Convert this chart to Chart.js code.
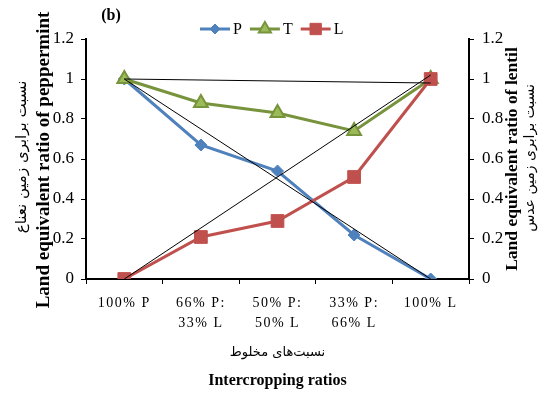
<!DOCTYPE html>
<html>
<head>
<meta charset="utf-8">
<script src="https://cdn.jsdelivr.net/npm/chart.js@4.4.1/dist/chart.umd.min.js"></script>
<style>
  html, body { margin: 0; padding: 0; background: #fff; }
  #box { width: 542px; height: 396px; }
</style>
</head>
<body>
<div id="box"><canvas id="chart"></canvas></div>
<script>
let ratios = [["100% P"], ["66% P:", "33% L"], ["50% P:", "50% L"], ["33% P:", "66% L"], ["100% L"]];
let pValues = [1, 0.67, 0.54, 0.22, 0];
let tValues = [1, 0.88, 0.83, 0.74, 1];
let lValues = [0, 0.21, 0.29, 0.51, 1];
// thin black reference lines, only the end points are set
let refFlat = [1, null, null, null, 0.98];
let refDown = [1, null, null, null, 0];
let refUp = [0, null, null, null, 1.02];
let seriesNames = ["P", "T", "L"];
let yTicks = [0, 0.2, 0.4, 0.6, 0.8, 1, 1.2];

let serif = "'Liberation Serif', 'Times New Roman', serif";
let persian = "'DejaVu Sans', sans-serif";

function refLine(data) {
  return {
    data: data,
    borderColor: "#000",
    borderWidth: 1,
    pointRadius: 0,
    spanGaps: true,
    order: 0,
    yAxisID: "y"
  };
}

function tickText(value) {
  return String(Math.round(value * 10) / 10);
}

let extraText = {
  id: "extraText",
  afterUpdate(chart) {
    let xs = chart.scales.x;
    if (!xs._spaced) {
      let orig = xs.drawLabels;
      xs.drawLabels = function (area) {
        chart.ctx.save();
        chart.ctx.letterSpacing = "1.5px";
        orig.call(this, area);
        chart.ctx.restore();
      };
      xs._spaced = true;
    }
  },
  afterDraw(chart) {
    let ctx = chart.ctx;
    let area = chart.chartArea;
    let midX = (area.left + area.right) / 2;
    ctx.save();
    ctx.fillStyle = "#000";
    ctx.textBaseline = "middle";
    ctx.textAlign = "center";

    ctx.font = "bold 16px " + serif;
    ctx.fillText("(b)", 111, 16);
    ctx.fillText("Intercropping ratios", midX, 381);
    ctx.font = "13px " + persian;
    ctx.fillText("نسبت‌های مخلوط", midX, 353);

    let sideText = [
      [44, 160, "bold 19px " + serif, "Land equivalent ratio of peppermint"],
      [22, 157, "15px " + persian, "نسبت برابری زمین نعناع"],
      [512, 159, "bold 17.5px " + serif, "Land equivalent ratio of lentil"],
      [530, 158, "14px " + persian, "نسبت برابری زمین عدس"]
    ];
    sideText.forEach(t => {
      ctx.save();
      ctx.translate(t[0], t[1]);
      ctx.rotate(-Math.PI / 2);
      ctx.font = t[2];
      ctx.fillText(t[3], 0, 0);
      ctx.restore();
    });

    // legend: line with marker, then name
    let lx = 200;
    let ly = 29;
    ctx.font = "16px " + serif;
    ctx.textAlign = "left";
    for (let i = 0; i < 3; i++) {
      let ds = chart.data.datasets[i];
      ctx.strokeStyle = ds.borderColor;
      ctx.lineWidth = 3;
      ctx.beginPath();
      ctx.moveTo(lx, ly);
      ctx.lineTo(lx + 30, ly);
      ctx.stroke();
      ctx.fillStyle = ds.pointBackgroundColor;
      ctx.strokeStyle = ds.pointBorderColor;
      ctx.lineWidth = ds.pointBorderWidth;
      Chart.helpers.drawPoint(ctx, {
        pointStyle: ds.pointStyle,
        radius: ds.pointRadius - 1,
        rotation: 0,
        borderWidth: ds.pointBorderWidth
      }, lx + 15, ly);
      ctx.fillStyle = "#000";
      ctx.fillText(seriesNames[i], lx + 33, ly + 1);
      lx += 33 + ctx.measureText(seriesNames[i]).width + 8;
    }
    ctx.restore();
  }
};

let axisFont = { family: serif, size: 17 };

let myChart = new Chart(document.getElementById("chart"), {
  type: "line",
  data: {
    labels: ratios,
    datasets: [
      {
        label: seriesNames[0],
        data: pValues,
        borderColor: "#4F81BD",
        borderWidth: 3,
        pointStyle: "rectRot",
        pointRadius: 6,
        pointBackgroundColor: "#4F81BD",
        pointBorderColor: "#4F81BD",
        pointBorderWidth: 1,
        order: 3,
        yAxisID: "y"
      },
      {
        label: seriesNames[1],
        data: tValues,
        borderColor: "#77933C",
        borderWidth: 3,
        pointStyle: "triangle",
        pointRadius: 8,
        pointBackgroundColor: "#9BBB59",
        pointBorderColor: "#77933C",
        pointBorderWidth: 2,
        order: 2,
        yAxisID: "y"
      },
      {
        label: seriesNames[2],
        data: lValues,
        borderColor: "#C0504D",
        borderWidth: 3,
        pointStyle: "rect",
        pointRadius: 9,
        pointBackgroundColor: "#C0504D",
        pointBorderColor: "#C0504D",
        pointBorderWidth: 1,
        order: 1,
        yAxisID: "y2"
      },
      refLine(refFlat),
      refLine(refDown),
      refLine(refUp)
    ]
  },
  options: {
    responsive: true,
    maintainAspectRatio: false,
    animation: false,
    layout: { padding: { top: 39, left: 0, right: 0, bottom: 0 } },
    plugins: {
      legend: { display: false },
      tooltip: { enabled: false }
    },
    scales: {
      x: {
        offset: true,
        grid: { drawOnChartArea: false, drawTicks: true, tickLength: 5, color: "#000", offset: true },
        border: { display: true, color: "#000", width: 2 },
        ticks: {
          color: "#000",
          font: { family: serif, size: 14, lineHeight: "20px" },
          padding: 9,
          maxRotation: 0,
          autoSkip: false
        },
        afterFit(scale) { scale.height = 117; }
      },
      y: {
        position: "left",
        min: 0,
        max: 1.2,
        afterBuildTicks(scale) { scale.ticks = yTicks.map(v => ({ value: v })); },
        grid: { drawOnChartArea: false, drawTicks: true, tickLength: 5, color: "#000" },
        border: { display: true, color: "#000", width: 2 },
        ticks: { color: "#000", font: axisFont, padding: 7, callback: tickText },
        afterFit(scale) { scale.width = 86; }
      },
      y2: {
        position: "right",
        min: 0,
        max: 1.2,
        afterBuildTicks(scale) { scale.ticks = yTicks.map(v => ({ value: v })); },
        grid: { drawOnChartArea: false, drawTicks: true, tickLength: 5, color: "#000" },
        border: { display: true, color: "#000", width: 2 },
        ticks: { color: "#000", font: axisFont, padding: 8, callback: tickText },
        afterFit(scale) { scale.width = 73; }
      }
    }
  },
  plugins: [extraText]
});
</script>
</body>
</html>
